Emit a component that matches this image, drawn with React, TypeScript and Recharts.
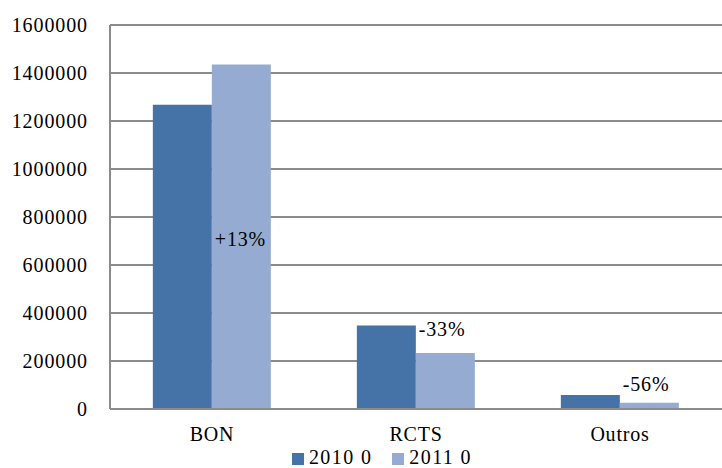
import React from 'react';
import { BarChart, Bar, XAxis, YAxis, CartesianGrid, Legend, LabelList } from 'recharts';

const categories = ['BON', 'RCTS', 'Outros'];
const values2010 = [1268000, 348000, 58000];
const values2011 = [1435000, 233000, 26000];
const changeLabels = ['+13%', '-33%', '-56%'];
const yTicks = [0, 200000, 400000, 600000, 800000, 1000000, 1200000, 1400000, 1600000];

const seriesNames = ['2010 0', '2011 0'];
const colors = ['#4572A7', '#95ABD1'];
const font = 'Liberation Serif';

const data = categories.map((name, i) => ({
  name,
  v2010: values2010[i],
  v2011: values2011[i],
  change: changeLabels[i],
}));

// label placement relative to the 2011 bar (BON sits inside the bar, others above)
const renderChange = (props: any) => {
  const { x, y, height, index } = props;
  const baseline = index === 0 ? y + height / 2 + 9 : y - (index === 1 ? 17 : 12);
  return (
    <text x={x + 3} y={baseline} fontSize={20} fontFamily={font} letterSpacing={0.8} fill="#000">
      {changeLabels[index]}
    </text>
  );
};

const renderLegend = () => (
  <div style={{ display: 'flex', justifyContent: 'center', gap: 20, fontFamily: font, fontSize: 20, letterSpacing: 1.4, lineHeight: '20px', paddingTop: 3, paddingLeft: 42 }}>
    {seriesNames.map((n, i) => (
      <span key={n} style={{ display: 'flex', alignItems: 'center' }}>
        <span style={{ display: 'inline-block', width: 12, height: 12, background: colors[i], marginRight: 5, marginTop: 4 }} />
        {n}
      </span>
    ))}
  </div>
);

export default function App() {
  return (
    <div style={{ position: 'absolute', left: 0, top: 0, width: 722, height: 468, background: '#fff', overflow: 'hidden' }}>
      <BarChart
        width={722}
        height={468}
        data={data}
        margin={{ top: 25, right: 0, left: 0, bottom: 0 }}
        barCategoryGap="21%"
        barGap={0}
      >
        <CartesianGrid horizontal vertical={false} stroke="#8C8C8C" strokeWidth={2} />
        <XAxis
          dataKey="name"
          height={35}
          tickLine={false}
          axisLine={{ stroke: '#8C8C8C', strokeWidth: 2 }}
          tickSize={6}
          tickMargin={12}
          tick={{ fill: '#000', fontSize: 20, fontFamily: font, letterSpacing: 0.8 }}
        />
        <YAxis
          width={110}
          domain={[0, 1600000]}
          ticks={yTicks}
          interval={0}
          tickLine={false}
          axisLine={{ stroke: '#8C8C8C', strokeWidth: 2 }}
          tickSize={6}
          tickMargin={16}
          tick={{ fill: '#000', fontSize: 20, fontFamily: font, letterSpacing: 0.9 }}
        />
        <Legend verticalAlign="bottom" height={24} content={renderLegend} />
        <Bar dataKey="v2010" name={seriesNames[0]} fill={colors[0]} isAnimationActive={false} />
        <Bar dataKey="v2011" name={seriesNames[1]} fill={colors[1]} isAnimationActive={false}>
          <LabelList dataKey="change" content={renderChange} />
        </Bar>
      </BarChart>
    </div>
  );
}
